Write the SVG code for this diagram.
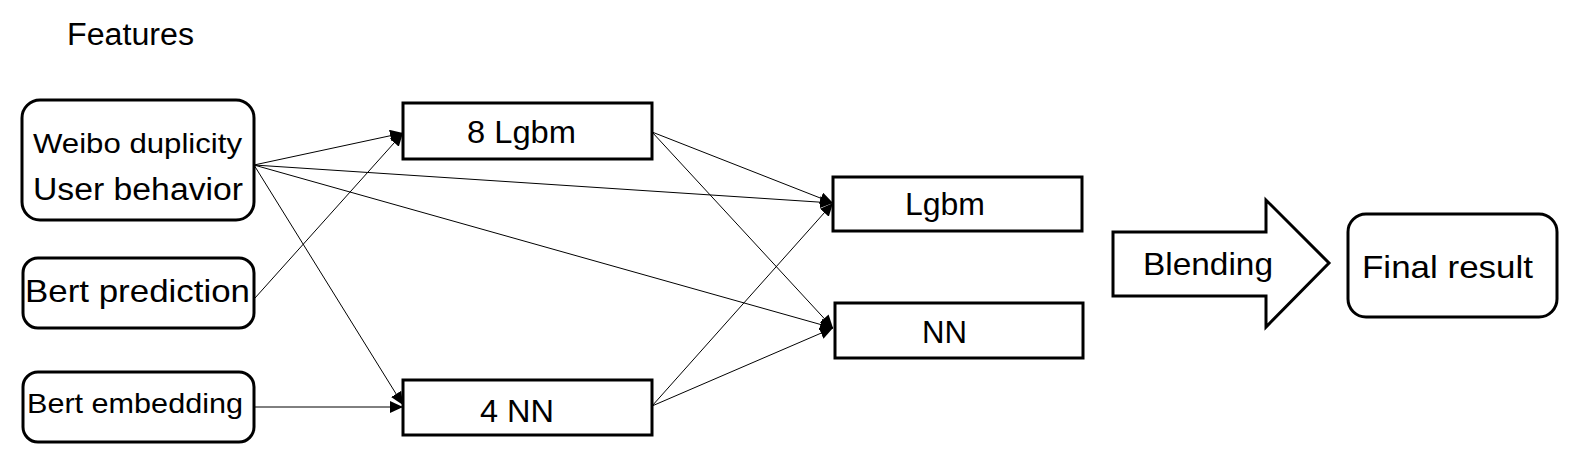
<svg xmlns="http://www.w3.org/2000/svg" width="1574" height="455" viewBox="0 0 1574 455">
<style>
.box{fill:#fff;stroke:#000;stroke-width:3}
.t{font-family:"Liberation Sans",Arial,sans-serif;fill:#000}
.e{stroke:#000;stroke-width:1;fill:none;marker-end:url(#ah)}
</style>
<defs>
<marker id="ah" markerUnits="userSpaceOnUse" markerWidth="14" markerHeight="12" refX="13" refY="6" orient="auto">
<path d="M0,0 L13,6 L0,12 Z" fill="#000"/>
</marker>
</defs>
<rect width="1574" height="455" fill="#fff"/>
<text class="t" x="67" y="45" font-size="31" textLength="127" lengthAdjust="spacingAndGlyphs">Features</text>
<g id="connectors">
<line class="e" x1="254" y1="165" x2="403" y2="133"/>
<line class="e" x1="254" y1="165" x2="833" y2="203"/>
<line class="e" x1="254" y1="165" x2="833" y2="328"/>
<line class="e" x1="254" y1="165" x2="403" y2="405"/>
<line class="e" x1="255" y1="298" x2="403" y2="133"/>
<line class="e" x1="254" y1="407" x2="403" y2="407"/>
<line class="e" x1="652" y1="132" x2="833" y2="203"/>
<line class="e" x1="652" y1="132" x2="833" y2="328"/>
<line class="e" x1="652" y1="406" x2="833" y2="203"/>
<line class="e" x1="652" y1="406" x2="833" y2="328"/>
</g>
<g id="weibo">
<rect class="box" x="22" y="100" width="232" height="120" rx="18"/>
<text class="t" x="33" y="153" font-size="28" textLength="209" lengthAdjust="spacingAndGlyphs">Weibo duplicity</text>
<text class="t" x="33" y="200" font-size="31" textLength="210" lengthAdjust="spacingAndGlyphs">User behavior</text>
</g>
<g id="bert-prediction">
<rect class="box" x="23" y="258" width="231" height="70" rx="15"/>
<text class="t" x="25" y="302" font-size="32" textLength="225" lengthAdjust="spacingAndGlyphs">Bert prediction</text>
</g>
<g id="bert-embedding">
<rect class="box" x="23" y="372" width="231" height="70" rx="15"/>
<text class="t" x="27" y="413" font-size="28" textLength="216" lengthAdjust="spacingAndGlyphs">Bert embedding</text>
</g>
<g id="lgbm8">
<rect class="box" x="403" y="103" width="249" height="56"/>
<text class="t" x="467" y="143" font-size="31" textLength="109" lengthAdjust="spacingAndGlyphs">8 Lgbm</text>
</g>
<g id="nn4">
<rect class="box" x="403" y="380" width="249" height="55"/>
<text class="t" x="480" y="422" font-size="31" textLength="74" lengthAdjust="spacingAndGlyphs">4 NN</text>
</g>
<g id="lgbm">
<rect class="box" x="833" y="177" width="249" height="54"/>
<text class="t" x="905" y="215" font-size="31" textLength="80" lengthAdjust="spacingAndGlyphs">Lgbm</text>
</g>
<g id="nn">
<rect class="box" x="835" y="303" width="248" height="55"/>
<text class="t" x="922" y="343" font-size="31" textLength="45" lengthAdjust="spacingAndGlyphs">NN</text>
</g>
<g id="blending">
<polygon class="box" points="1113,232 1266,232 1266,200 1329,263 1266,327 1266,296 1113,296"/>
<text class="t" x="1143" y="275" font-size="32" textLength="130" lengthAdjust="spacingAndGlyphs">Blending</text>
</g>
<g id="final">
<rect class="box" x="1348" y="214" width="209" height="103" rx="18"/>
<text class="t" x="1362" y="278" font-size="32" textLength="171" lengthAdjust="spacingAndGlyphs">Final result</text>
</g>
</svg>
